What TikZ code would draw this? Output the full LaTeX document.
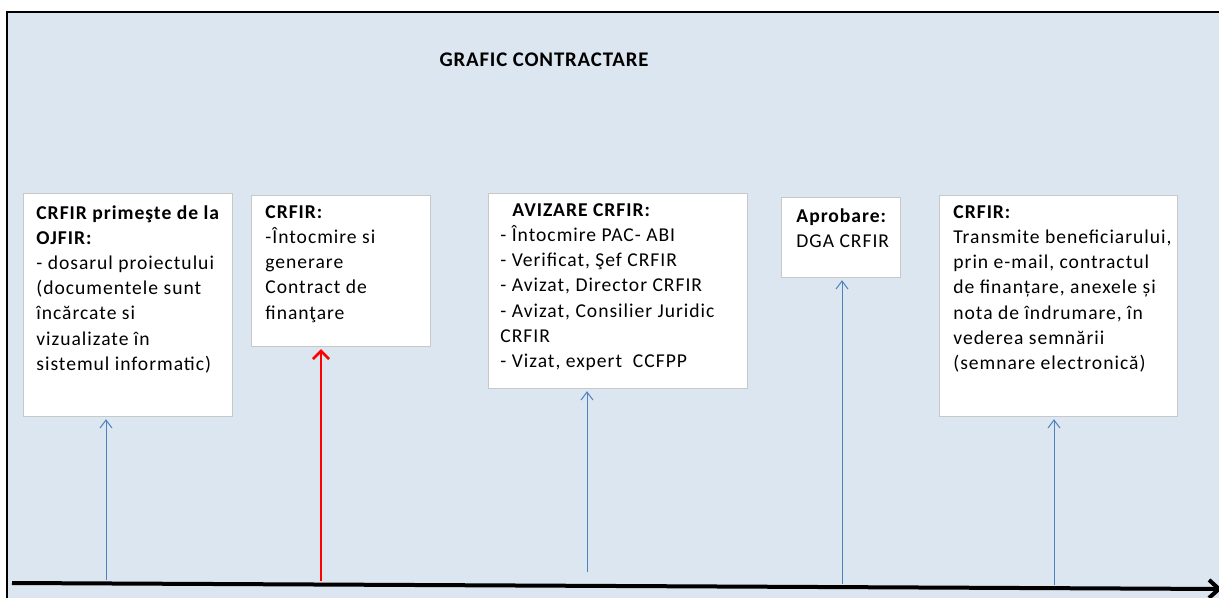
\documentclass[tikz,border=0pt]{standalone}
\usepackage{fontspec}
\setmainfont{Carlito}
\newfontfamily\boxfont[LetterSpace=5]{Carlito}
\newfontfamily\titlefont[LetterSpace=4]{Carlito}
\usetikzlibrary{arrows.meta}
\definecolor{bgblue}{RGB}{220,230,241}
\definecolor{arrblue}{RGB}{79,129,189}
\definecolor{boxline}{RGB}{200,200,200}
\tikzset{
  box/.style={draw=boxline, line width=0.6pt, fill=white, anchor=north west, inner sep=0pt},
  txt/.style={anchor=north west, inner sep=0pt, align=left, font=\boxfont\fontsize{9.8}{12.6}\selectfont},
  barrow/.style={draw=arrblue, line width=0.5pt, -{Straight Barb[length=4pt,width=6pt]}, shorten >=1pt},
  rarrow/.style={draw=red, line width=1.3pt, -{Straight Barb[length=4pt,width=8pt]}, shorten >=1pt},
}
\begin{document}
\begin{tikzpicture}[x=0.5pt,y=-0.5pt]
\useasboundingbox (0,0) rectangle (1219,598);
\fill[bgblue] (7,12) rectangle (1219,598);
\draw[black, line width=1pt] (7,598) -- (7,12) -- (1219,12);

\node[anchor=base, inner sep=0pt, font=\titlefont\fontsize{10.4}{12.6}\selectfont\bfseries] (title) at (544,67) {GRAFIC CONTRACTARE};

% boxes
\node[box, minimum width=104.5pt, minimum height=111.5pt] (b1) at (23,193) {};
\node[box, minimum width=89.5pt, minimum height=75.5pt] (b2) at (251,195) {};
\node[box, minimum width=129.5pt, minimum height=97.5pt] (b3) at (488,193) {};
\node[box, minimum width=59.5pt, minimum height=40pt] (b4) at (781,197) {};
\node[box, minimum width=119pt, minimum height=110.5pt] (b5) at (939,195) {};

% texts
\node[txt] (t1) at (36,205) {\textbf{CRFIR primeşte de la}\\\textbf{OJFIR:}\\- dosarul proiectului\\(documentele sunt\\încărcate si\\vizualizate în\\sistemul informatic)};
\node[txt] (t2) at (265,205) {\textbf{CRFIR:}\\-Întocmire si\\generare\\Contract de\\finanţare};
\node[txt] (t3) at (500,203) {\hspace*{6pt}\textbf{AVIZARE CRFIR:}\\- Întocmire PAC- ABI\\- Verificat, Şef CRFIR\\- Avizat, Director CRFIR\\- Avizat, Consilier Juridic\\CRFIR\\- Vizat, expert\ \ CCFPP};
\node[txt] (t4) at (796,208) {\textbf{Aprobare:}\\DGA CRFIR};
\node[txt] (t5) at (953,205) {\textbf{CRFIR:}\\Transmite beneficiarului,\\prin e-mail, contractul\\de finanțare, anexele și\\nota de îndrumare, în\\vederea semnării\\(semnare electronică)};

% timeline
\coordinate (tl0) at (12,583);
\coordinate (tl1) at (1222,589);
\draw[line width=2pt, -{Straight Barb[length=5pt,width=9pt]}] (tl0) -- (tl1);

\coordinate (p1) at (106,580);
\coordinate (p2) at (321,581);
\coordinate (p3) at (587,572);
\coordinate (p4) at (842,584);
\coordinate (p5) at (1054,585);

\draw[barrow] (p1) -- (p1 |- b1.south);
\draw[rarrow] (p2) -- (p2 |- b2.south);
\draw[barrow] (p3) -- (p3 |- b3.south);
\draw[barrow] (p4) -- (p4 |- b4.south);
\draw[barrow] (p5) -- (p5 |- b5.south);
\end{tikzpicture}
\end{document}
